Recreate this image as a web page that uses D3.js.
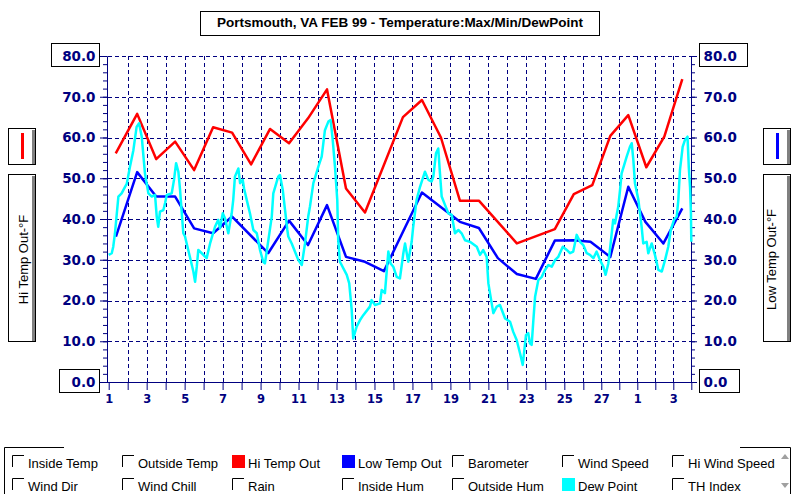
<!DOCTYPE html>
<html><head><meta charset="utf-8">
<script src="https://cdn.jsdelivr.net/npm/d3@7"></script>
<style>body{margin:0;background:#fff;overflow:hidden}</style>
</head><body><svg id="c" width="795" height="494"></svg>
<script>
const titleText = "Portsmouth, VA FEB 99 - Temperature:Max/Min/DewPoint";
const leftAxisTitle = "Hi Temp Out-°F";
const rightAxisTitle = "Low Temp Out-°F";
const xTickDays = [0,2,4,6,8,10,12,14,16,18,20,22,24,26,28,30];
const xTickLabels = ["1","3","5","7","9","11","13","15","17","19","21","23","25","27","1","3"];
const yTicks = [0,10,20,30,40,50,60,70,80];

// [day offset from Feb 1 00:00, °F]
const hiTemp = [[0.37,56.1],[1.5,65.8],[2.5,54.7],[3.5,59.0],[4.5,52.0],[5.5,62.5],[6.5,61.2],[7.5,53.4],[8.5,62.1],[9.5,58.6],[10.5,64.7],[11.5,71.8],[12.5,47.5],[13.5,41.6],[15.5,65.0],[16.5,69.2],[17.5,60.0],[18.5,44.5],[19.5,44.5],[21.5,34.0],[23.5,37.5],[24.5,46.1],[25.5,48.3],[26.5,60.4],[27.5,65.5],[28.5,52.7],[29.5,60.2],[30.5,74.3]];
const lowTemp = [[0.38,35.7],[1.5,51.5],[2.5,45.5],[3.5,45.5],[4.5,37.7],[5.5,36.5],[6.5,40.6],[8.4,31.6],[9.5,39.6],[10.5,33.6],[11.5,43.4],[12.5,30.7],[13.5,29.5],[14.5,27.2],[16.5,46.5],[18.5,39.3],[19.5,37.8],[20.5,30.4],[21.5,26.5],[22.5,25.3],[23.5,34.7],[24.5,34.8],[25.4,34.4],[26.5,30.7],[27.5,47.9],[28.45,39.3],[29.45,34.0],[30.5,42.6]];
const dewPoint = [[0,31.2],[0.16,31.6],[0.24,33.2],[0.33,36.5],[0.51,45.5],[0.68,46.3],[0.86,47.9],[0.95,48.6],[1.12,52.8],[1.30,56.9],[1.47,62.6],[1.60,63.5],[1.74,60.2],[1.91,51.2],[2.09,46.3],[2.27,45.5],[2.44,45.9],[2.53,40.6],[2.61,38.1],[2.70,41.8],[2.88,42.2],[2.97,43.9],[3.06,45.9],[3.32,46.3],[3.44,49.6],[3.55,53.7],[3.67,51.6],[3.76,47.1],[3.85,41.4],[3.93,36.5],[4.02,35.7],[4.19,32.4],[4.46,27.1],[4.55,24.6],[4.64,28.3],[4.72,32.4],[4.90,31.6],[5.16,30.4],[5.34,34.0],[5.60,38.1],[5.77,39.8],[5.86,37.7],[6.01,41.4],[6.13,40.1],[6.30,36.5],[6.48,41.4],[6.56,44.7],[6.65,50.4],[6.83,52.4],[6.92,48.8],[7.06,49.6],[7.13,47.5],[7.27,44.7],[7.44,41.4],[7.62,37.3],[7.80,36.5],[7.97,32.4],[8.14,29.5],[8.23,29.1],[8.41,34.8],[8.59,40.6],[8.67,46.3],[8.93,50.4],[9.02,50.8],[9.17,47.1],[9.29,42.2],[9.41,37.3],[9.46,35.7],[9.64,34.0],[9.99,29.9],[10.17,28.7],[10.34,34.0],[10.51,40.6],[10.60,43.0],[10.78,48.8],[11.04,52.8],[11.22,55.3],[11.39,61.8],[11.57,63.9],[11.69,64.3],[11.80,59.4],[11.92,52.8],[12.04,44.7],[12.09,34.8],[12.18,29.5],[12.54,26.3],[12.67,24.2],[12.80,17.7],[12.88,10.7],[13.06,13.6],[13.24,15.2],[13.41,16.4],[13.76,18.5],[13.85,20.1],[14.03,18.9],[14.29,19.3],[14.38,22.6],[14.55,21.8],[14.73,32.0],[14.85,29.1],[14.99,28.3],[15.17,25.8],[15.34,25.4],[15.52,31.6],[15.61,34.0],[15.78,29.5],[15.96,34.4],[16.04,38.1],[16.22,44.7],[16.40,47.9],[16.66,51.6],[16.84,49.6],[17.01,49.2],[17.10,50.4],[17.24,56.1],[17.36,57.3],[17.45,51.2],[17.54,45.5],[17.72,43.4],[17.89,41.4],[18.07,41.0],[18.24,36.5],[18.42,37.3],[18.59,36.5],[18.77,34.8],[19.03,34.4],[19.39,33.2],[19.56,31.2],[19.73,32.4],[19.91,30.7],[20.00,24.2],[20.26,16.9],[20.44,18.5],[20.61,18.9],[20.88,15.6],[21.14,14.8],[21.31,12.3],[21.49,10.3],[21.67,7.0],[21.81,4.2],[21.98,11.5],[22.10,12.0],[22.19,9.5],[22.28,9.1],[22.37,15.2],[22.46,20.9],[22.63,25.0],[22.81,25.8],[22.98,27.5],[23.16,28.7],[23.34,28.3],[23.51,29.9],[23.68,30.7],[23.92,33.2],[24.13,32.4],[24.30,31.6],[24.47,32.0],[24.65,36.1],[24.83,34.4],[25.00,33.6],[25.19,31.6],[25.37,31.2],[25.56,30.4],[25.74,32.0],[25.93,29.9],[26.11,28.3],[26.24,26.3],[26.39,29.1],[26.48,32.4],[26.66,39.8],[26.76,38.9],[26.94,43.0],[27.04,47.1],[27.13,51.2],[27.41,55.3],[27.59,57.7],[27.69,58.6],[27.78,54.5],[27.87,48.8],[28.06,44.7],[28.15,41.4],[28.24,38.1],[28.33,34.0],[28.52,34.4],[28.61,31.6],[28.80,34.0],[28.98,31.2],[29.17,27.5],[29.36,27.1],[29.54,29.9],[29.72,33.2],[29.86,37.3],[30.04,39.8],[30.19,40.6],[30.28,44.7],[30.37,52.0],[30.52,57.7],[30.65,59.4],[30.79,60.2],[30.86,52.8],[30.93,47.9],[30.98,41.4],[31.0,34.4]];

const legendLabels = ["Inside Temp","Outside Temp","Hi Temp Out","Low Temp Out","Barometer","Wind Speed","Hi Wind Speed",
                      "Wind Dir","Wind Chill","Rain","Inside Hum","Outside Hum","Dew Point","TH Index"];
const legendColors = [null,null,"#ff0000","#0000ff",null,null,null,
                      null,null,null,null,null,"#00ffff",null];

const NAVY = "#000080";
const svg = d3.select("#c");
svg.append("rect").attr("width",795).attr("height",494).attr("fill","#fff");

const x = d3.scaleLinear().domain([0,25,31]).range([108.7,583.3,691.3]);
const y = d3.scaleLinear().domain([0,80]).range([382,56]);
const px = v => Math.round(v) + 0.5;

// Title
svg.append("rect").attr("x",200.5).attr("y",11.5).attr("width",399).attr("height",24)
  .attr("fill","#fff").attr("stroke","#000");
svg.append("text").attr("x",400).attr("y",27).attr("text-anchor","middle")
  .attr("font-family","Liberation Sans, Arial, sans-serif").attr("font-weight","bold")
  .attr("font-size",13.5).attr("fill","#000").text(titleText);

// Grid
const grid = svg.append("g").attr("stroke",NAVY).attr("stroke-width",1).attr("stroke-dasharray","4,3");
grid.selectAll("line.h").data(yTicks.filter(v=>v>0)).join("line").attr("class","h")
  .attr("x1",108).attr("x2",691).attr("y1",d=>px(y(d))).attr("y2",d=>px(y(d)));
grid.selectAll("line.v").data(d3.range(1,31)).join("line").attr("class","v")
  .attr("x1",d=>px(x(d))).attr("x2",d=>px(x(d))).attr("y1",56).attr("y2",382);

// Axes
function styleAxis(g, size){
  g.attr("color",NAVY);
  g.selectAll("text").attr("font-family","DejaVu Sans, Verdana, sans-serif")
    .attr("font-weight","bold").attr("font-size",size).attr("fill",NAVY);
}
const fmt = d3.format(".1f");
svg.append("g").attr("transform","translate(107,0)")
  .call(d3.axisLeft(y).tickValues(d3.range(0,81,2)).tickSize(4).tickSizeOuter(0).tickFormat(""))
  .call(g=>g.attr("color",NAVY));
svg.append("g").attr("transform","translate(107,0)")
  .call(d3.axisLeft(y).tickValues(yTicks).tickSize(7).tickSizeOuter(0).tickPadding(4.5).tickFormat(fmt))
  .call(g=>styleAxis(g,13.5));
svg.append("g").attr("transform","translate(691,0)")
  .call(d3.axisRight(y).tickValues(d3.range(0,81,2)).tickSize(4).tickSizeOuter(0).tickFormat(""))
  .call(g=>g.attr("color",NAVY));
svg.append("g").attr("transform","translate(691,0)")
  .call(d3.axisRight(y).tickValues(yTicks).tickSize(6).tickSizeOuter(0).tickPadding(6.5).tickFormat(fmt))
  .call(g=>styleAxis(g,13.5));
const xg = svg.append("g").attr("transform","translate(0,382)")
  .call(d3.axisBottom(x).tickValues(d3.range(0,32)).tickSize(8).tickSizeOuter(0).tickPadding(5)
    .tickFormat(d=>{const i=xTickDays.indexOf(d);return i>=0?xTickLabels[i]:"";}))
  .call(g=>styleAxis(g,11.5));
xg.select(".domain").remove();
svg.append("line").attr("x1",100).attr("x2",691.5).attr("y1",382.5).attr("y2",382.5).attr("stroke",NAVY);

// Boxes around end labels
const boxes = [[51,43,48,23],[59,369,40,23],[699,43,48,23],[699,369,40,23]];
svg.append("g").selectAll("rect").data(boxes).join("rect")
  .attr("x",d=>d[0]+0.5).attr("y",d=>d[1]+0.5).attr("width",d=>d[2]).attr("height",d=>d[3])
  .attr("fill","none").attr("stroke","#000");

// Series
const line = d3.line().x(d=>x(d[0])).y(d=>y(d[1]));
const series = [[hiTemp,"#ff0000"],[lowTemp,"#0000ff"],[dewPoint,"#00ffff"]];
svg.append("g").selectAll("path").data(series).join("path")
  .attr("d",d=>line(d[0])).attr("fill","none").attr("stroke",d=>d[1])
  .attr("stroke-width",2.5).attr("stroke-linejoin","round");

// Side boxes
function sideBox(bx, color, label, baseX){
  const g = svg.append("g");
  [[128,36],[174,167]].forEach(([by,bh])=>{
    g.append("rect").attr("x",bx+0.5).attr("y",by+0.5).attr("width",27).attr("height",bh)
      .attr("fill","#fff").attr("stroke","#000");
    g.append("rect").attr("x",bx+24).attr("y",by+2).attr("width",3).attr("height",bh-2).attr("fill","#808080");
  });
  g.append("line").attr("x1",bx+14.5).attr("x2",bx+14.5).attr("y1",133).attr("y2",159)
    .attr("stroke",color).attr("stroke-width",3);
  g.append("text").attr("transform",`translate(${baseX},259.5) rotate(-90)`)
    .attr("text-anchor","middle").attr("font-family","Liberation Sans, Arial, sans-serif")
    .attr("font-size",13).attr("fill","#000").text(label);
}
sideBox(8, "#ff0000", leftAxisTitle, 27.5);
sideBox(763, "#0000ff", rightAxisTitle, 775.5);

// Legend
const lg = svg.append("g");
lg.append("path").attr("d","M4.5,494 V447.5 H64").attr("fill","none").attr("stroke","#000");
lg.append("path").attr("d","M740,447.5 H790.5 V494").attr("fill","none").attr("stroke","#000");
lg.append("path").attr("d","M781,459 L785,454 L789,459 Z").attr("fill","#a0a0a0");
lg.append("path").attr("d","M781,483 L785,488 L789,483 Z").attr("fill","#a0a0a0");
const items = lg.selectAll("g.item").data(legendLabels.map((l,i)=>({l,c:legendColors[i],i}))).join("g")
  .attr("class","item")
  .attr("transform",d=>`translate(${12+110*(d.i%7)},${d.i<7?455:478})`);
items.each(function(d){
  const g = d3.select(this);
  if(d.c){
    g.append("rect").attr("x",0).attr("y",0).attr("width",13).attr("height",13).attr("fill",d.c);
  } else {
    g.append("path").attr("d","M0.5,12 V0.5 H12").attr("fill","none").attr("stroke","#000");
  }
  g.append("text").attr("x",16).attr("y",13).attr("font-family","Liberation Sans, Arial, sans-serif")
    .attr("font-size",13).attr("fill","#000").text(d.l);
});
</script></body></html>
